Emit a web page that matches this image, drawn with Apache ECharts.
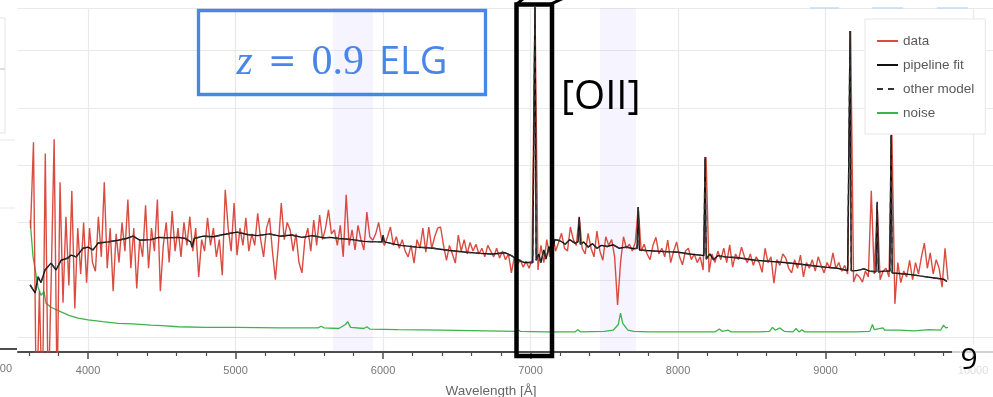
<!DOCTYPE html>
<html>
<head>
<meta charset="utf-8">
<script src="https://cdn.jsdelivr.net/npm/echarts@6/dist/echarts.min.js"></script>
<style>
  html, body { margin: 0; padding: 0; background: #fff; }
  #chart { width: 993px; height: 397px; }
</style>
</head>
<body>
<div id="chart"></div>
<script>
// spectrum sampled on a regular 20 A grid starting at 3610 A
const WAVE_START = 3610
const WAVE_STEP = 20
const dataFlux = [
  1.9, 3.4, -1.5, 0.8, -1.3, 3.2, -1.2, 1.0, 3.45, -1.0,
  2.7, 0.6, 2.1, 0.9, 2.55, 0.5, 1.9, 1.1, 2.0, 0.95,
  1.9, 1.3, 1.15, 2.1, 1.4, 2.7, 1.2, 1.9, 0.8, 1.8,
  1.3, 2.0, 1.5, 2.4, 1.2, 1.9, 0.85, 1.7, 1.4, 2.3,
  1.2, 1.9, 1.5, 2.4, 0.8, 1.6, 2.0, 1.3, 2.2, 1.5,
  1.9, 1.4, 2.0, 1.6, 2.1, 1.5, 1.9, 1.05, 1.7, 1.5,
  2.08, 1.6, 1.9, 1.4, 1.7, 1.08, 2.57, 1.9, 1.5, 2.34,
  1.43, 1.9, 1.6, 2.08, 1.5, 1.8, 1.6, 2.16, 1.7, 1.4,
  1.9, 2.08, 1.5, 1.0, 1.6, 2.34, 1.7, 2.0, 1.87, 1.5,
  1.8, 1.3, 1.12, 1.7, 1.9, 1.5, 2.04, 1.6, 2.13, 1.7,
  1.9, 2.22, 1.8, 1.87, 1.6, 1.95, 1.4, 2.48, 1.6, 1.87,
  1.52, 1.95, 1.7, 1.52, 2.18, 1.75, 1.69, 1.8, 2.0, 1.7,
  1.6, 1.75, 1.92, 1.6, 1.75, 1.55, 1.7, 1.5, 1.4, 1.6,
  1.29, 1.7, 1.55, 1.9, 1.48, 1.92, 1.55, 1.75, 1.9, 1.92,
  1.6, 1.34, 1.6, 1.45, 1.29, 1.78, 1.5, 1.7, 1.45, 1.65,
  1.5, 1.62, 1.45, 1.55, 1.4, 1.6, 1.5, 1.4, 1.55, 1.38,
  1.5, 1.35, 1.45, 1.12, 1.4, 1.25, 1.35, 1.22, 1.32, 1.2,
  1.35, 5.8, 1.17, 1.6, 1.3, 1.7, 1.4, 1.81, 1.5, 1.65,
  1.81, 1.55, 1.5, 1.92, 1.7, 1.6, 2.1, 1.55, 1.45, 1.81,
  1.55, 1.4, 1.85, 1.5, 1.34, 1.75, 1.6, 1.7, 1.4, 0.56,
  1.3, 1.75, 1.55, 1.62, 1.5, 1.65, 2.27, 1.5, 1.62, 1.45,
  1.35, 1.6, 1.74, 1.45, 1.55, 1.4, 1.69, 1.3, 1.5, 1.66,
  1.4, 1.26, 1.5, 1.55, 1.35, 1.45, 1.3, 1.4, 1.17, 3.14,
  1.13, 1.45, 1.3, 1.5, 1.35, 1.55, 1.3, 1.61, 1.22, 1.45,
  1.35, 1.57, 1.4, 1.3, 1.45, 1.25, 1.4, 1.3, 1.13, 1.55,
  1.3, 1.4, 0.94, 1.35, 1.25, 1.45, 1.38, 1.2, 1.12, 1.35,
  1.2, 1.43, 1.05, 1.3, 1.2, 1.35, 1.15, 1.4, 1.25, 1.12,
  1.3, 1.2, 1.47, 1.2, 1.3, 1.15, 1.25, 1.1, 5.34, 0.96,
  1.1, 1.05, 0.96, 1.15, 1.05, 2.55, 1.1, 2.3, 1.0, 1.15,
  1.2, 1.05, 3.53, 0.58, 1.3, 0.95, 1.15, 1.05, 1.34, 1.0,
  1.3, 1.1, 1.4, 1.64, 1.2, 1.47, 1.1, 1.35, 1.2, 0.87,
  1.55, 1.0
]

// pipeline fit (also used for the dashed other model)
const fitWave = [
  3607, 3641, 3661, 3681, 3708, 3749, 3783, 3817, 3864, 3885, 3919, 3966, 4000, 4034, 4068, 4136,
  4203, 4260, 4305, 4350, 4427, 4480, 4542, 4610, 4660, 4695, 4705, 4720, 4780, 4850, 4920, 5010,
  5080, 5150, 5230, 5300, 5380, 5450, 5520, 5600, 5640, 5700, 5790, 5870, 5960, 5992, 6000, 6008,
  6060, 6120, 6230, 6340, 6450, 6565, 6660, 6745, 6830, 6870, 6895, 6930, 6960, 7015, 7022, 7030,
  7038, 7055, 7070, 7090, 7105, 7125, 7140, 7165, 7200, 7235, 7265, 7300, 7322, 7330, 7338, 7360,
  7390, 7420, 7450, 7480, 7520, 7560, 7600, 7650, 7700, 7722, 7730, 7738, 7780, 7850, 7920, 8000,
  8080, 8150, 8175, 8183, 8191, 8215, 8240, 8270, 8320, 8420, 8520, 8620, 8720, 8830, 8930, 9000,
  9080, 9150, 9158, 9166, 9174, 9210, 9260, 9300, 9342, 9350, 9358, 9400, 9436, 9444, 9452, 9500,
  9580, 9660, 9740, 9800, 9823
]
const fitFlux = [
  0.91, 0.77, 1.05, 0.95, 1.17, 1.29, 1.17, 1.34, 1.38, 1.43, 1.40, 1.55, 1.57, 1.52, 1.64, 1.66,
  1.69, 1.72, 1.76, 1.69, 1.70, 1.74, 1.73, 1.74, 1.72, 1.66, 1.57, 1.72, 1.76, 1.75, 1.79, 1.83,
  1.79, 1.77, 1.80, 1.76, 1.78, 1.74, 1.77, 1.73, 1.74, 1.72, 1.70, 1.67, 1.66, 1.66, 1.78, 1.66,
  1.63, 1.60, 1.57, 1.55, 1.51, 1.48, 1.46, 1.45, 1.47, 1.42, 1.38, 1.33, 1.30, 1.30, 1.32, 5.8,
  1.34, 1.45, 1.30, 1.52, 1.36, 1.58, 1.42, 1.70, 1.68, 1.62, 1.70, 1.64, 1.66, 2.09, 1.62, 1.66,
  1.57, 1.63, 1.55, 1.60, 1.58, 1.61, 1.55, 1.57, 1.54, 1.55, 2.27, 1.52, 1.51, 1.50, 1.49, 1.48,
  1.45, 1.43, 1.42, 3.14, 1.36, 1.45, 1.35, 1.42, 1.40, 1.38, 1.34, 1.32, 1.30, 1.27, 1.24, 1.22,
  1.20, 1.16, 1.17, 5.34, 1.16, 1.16, 1.19, 1.15, 1.14, 2.36, 1.14, 1.15, 1.15, 3.53, 1.12, 1.11,
  1.09, 1.06, 1.03, 1.01, 0.97
]

const noiseWave = [
  3607, 3627, 3661, 3681, 3702, 3715, 3749, 3817, 3870, 3932, 4000, 4100, 4203, 4300, 4427, 4500,
  4610, 4800, 5000, 5300, 5560, 5580, 5600, 5700, 5745, 5760, 5780, 5870, 5890, 5910, 6100, 6400,
  6700, 6900, 6915, 6930, 7100, 7300, 7320, 7340, 7500, 7560, 7595, 7610, 7625, 7660, 7700, 7800,
  8000, 8250, 8280, 8300, 8340, 8360, 8550, 8620, 8640, 8660, 8690, 8720, 8780, 8800, 8820, 8840,
  8860, 9050, 9200, 9300, 9318, 9330, 9390, 9400, 9500, 9600, 9700, 9780, 9800, 9815, 9830
]
const noiseFlux = [
  2.04, 1.40, 0.87, 0.73, 0.79, 0.59, 0.52, 0.44, 0.38, 0.33, 0.30, 0.27, 0.24, 0.23, 0.21, 0.20,
  0.18, 0.17, 0.17, 0.16, 0.16, 0.19, 0.16, 0.15, 0.22, 0.27, 0.17, 0.15, 0.18, 0.14, 0.13, 0.12,
  0.11, 0.10, 0.13, 0.10, 0.09, 0.09, 0.13, 0.09, 0.10, 0.12, 0.22, 0.42, 0.24, 0.12, 0.10, 0.09,
  0.09, 0.09, 0.14, 0.10, 0.12, 0.09, 0.09, 0.10, 0.17, 0.12, 0.16, 0.10, 0.09, 0.15, 0.09, 0.13,
  0.09, 0.09, 0.09, 0.10, 0.22, 0.13, 0.16, 0.12, 0.12, 0.11, 0.13, 0.12, 0.21, 0.16, 0.17
]

const xTickLabels = [4000, 5000, 6000, 7000, 8000, 9000, 10000]
const xMinorTicks = [3600, 3800, 4200, 4400, 4600, 4800, 5200, 5400, 5600, 5800, 6200, 6400, 6600,
  6800, 7200, 7400, 7600, 7800, 8200, 8400, 8600, 8800, 9200, 9400, 9600, 9800]
const yGridValues = [0, 1, 2, 3, 4, 5, 5.74]
const maskBands = [[5661, 5932], [7471, 7715]]

const X_MIN = 3525
const X_MAX = 10142
const Y_MIN = -0.26
const Y_MAX = 5.74

const toPairs = (xs, ys) => xs.map((x, i) => [x, ys[i]])
const dataPoints = dataFlux.map((v, i) => [WAVE_START + i * WAVE_STEP, v])
const fitPoints = toPairs(fitWave, fitFlux)
const noisePoints = toPairs(noiseWave, noiseFlux)

const chart = echarts.init(document.getElementById('chart'))

const axisColor = '#4d4d4d'
const gridColor = '#e9e9e9'
const blue = '#4a86e8'

const line = (x1, y1, x2, y2, stroke, lineWidth) => ({
  type: 'line', silent: true, z: 100,
  shape: { x1, y1, x2, y2 },
  style: { stroke, lineWidth },
})

chart.setOption({
  animation: false,
  backgroundColor: '#fff',
  textStyle: { fontFamily: 'Liberation Sans' },
  grid: { left: 18, top: 8, width: 976, height: 344, containLabel: false, outerBoundsMode: 'none' },
  legend: {
    data: ['data', 'pipeline fit', 'other model', 'noise'],
    orient: 'vertical',
    left: 865,
    top: 19,
    padding: [15, 11, 14, 11],
    itemGap: 10,
    itemWidth: 21,
    itemHeight: 14,
    itemStyle: { opacity: 0 },
    backgroundColor: '#fff',
    borderColor: '#e6e6e6',
    borderWidth: 1,
    borderRadius: 0,
    textStyle: { color: '#595959', fontSize: 13.5, fontFamily: 'Liberation Sans', lineHeight: 14 },
  },
  xAxis: [
    {
      type: 'value',
      min: X_MIN,
      max: X_MAX,
      name: 'Wavelength [Å]',
      nameLocation: 'middle',
      nameGap: 32,
      nameTextStyle: { color: '#666', fontSize: 13.5, padding: [0, 30, 0, 0] },
      axisLine: { onZero: false, lineStyle: { color: axisColor, width: 2 } },
      axisTick: { customValues: xTickLabels, length: 7, lineStyle: { color: axisColor, width: 1.5 } },
      axisLabel: { customValues: xTickLabels, margin: 13, color: '#777', fontSize: 11, formatter: v => String(v) },
      splitLine: { show: true, lineStyle: { color: gridColor, width: 1.2 } },
    },
    {
      type: 'value',
      min: X_MIN,
      max: X_MAX,
      position: 'bottom',
      axisLine: { show: false, onZero: false },
      axisTick: { customValues: xMinorTicks, length: 4, lineStyle: { color: axisColor, width: 1.2 } },
      axisLabel: { show: false },
      splitLine: { show: false },
    },
  ],
  yAxis: {
    type: 'value',
    min: Y_MIN,
    max: Y_MAX,
    axisLine: { show: false },
    axisTick: { show: false, customValues: yGridValues },
    axisLabel: { show: false },
    splitLine: { show: true, lineStyle: { color: gridColor, width: 1.2 } },
  },
  series: [
    {
      name: 'noise',
      type: 'line',
      data: noisePoints,
      symbol: 'none',
      color: '#3cb44b',
      lineStyle: { color: '#3cb44b', width: 1.3 },
    },
    {
      name: 'data',
      type: 'line',
      data: dataPoints,
      symbol: 'none',
      color: '#d6392c',
      lineStyle: { color: '#d6392c', width: 1.4, opacity: 0.9 },
      markArea: {
        silent: true,
        itemStyle: { color: 'rgba(140,120,255,0.08)' },
        data: maskBands.map(([a, b]) => [{ xAxis: a }, { xAxis: b }]),
      },
    },
    {
      name: 'pipeline fit',
      type: 'line',
      data: fitPoints,
      symbol: 'none',
      color: '#111',
      lineStyle: { color: '#111', width: 1.4 },
    },
    {
      name: 'other model',
      type: 'line',
      data: fitPoints,
      symbol: 'none',
      color: '#333',
      lineStyle: { color: '#333', width: 1.4, type: [6, 5] },
    },
  ],
  graphic: [
    // remnants of the neighbouring panel on the left
    { type: 'rect', silent: true, z: 100, shape: { x: -10, y: 18, width: 15, height: 115 },
      style: { fill: 'none', stroke: '#e3e3e3', lineWidth: 1 } },
    line(0, 69, 5, 69, '#d5d5d5', 1.5),
    line(0, 140, 15, 140, '#ececec', 1.2),
    line(0, 208, 15, 208, '#ececec', 1.2),
    line(0, 349, 17, 349, axisColor, 2),
    { type: 'text', silent: true, z: 100, x: 12, y: 369,
      style: { text: '00', fill: '#777', fontSize: 11, fontFamily: 'Liberation Sans', align: 'right', verticalAlign: 'middle' } },
    // toolbar strokes at the top
    line(810, 8, 839, 8, '#c3daf2', 1.5),
    line(872, 8, 903, 8, '#c3daf2', 1.5),
    line(937, 8, 968, 8, '#c3daf2', 1.5),
    // redshift box
    { type: 'rect', silent: true, z: 100, shape: { x: 198.5, y: 10.5, width: 287, height: 84 },
      style: { fill: 'none', stroke: blue, lineWidth: 3.3 } },
    { type: 'text', silent: true, z: 100, x: 342, y: 63,
      style: {
        text: '{i|z} {e|=} {m|0.9} {s|ELG}',
        align: 'center',
        verticalAlign: 'middle',
        rich: {
          i: { fontFamily: 'Liberation Serif', fontStyle: 'italic', fontSize: 42, fill: blue, padding: [0, 5, 0, 0] },
          e: { fontFamily: 'DejaVu Sans', fontSize: 34, fill: blue, padding: [0, 5, 0, 0] },
          m: { fontFamily: 'Liberation Serif', fontSize: 42, fill: blue, padding: [0, 5, 0, 0] },
          s: { fontFamily: 'Open Sans', fontSize: 38, fill: blue },
        },
        fontFamily: 'Liberation Serif',
        fontSize: 40,
        fill: blue,
      } },
    // [OII] box
    { type: 'rect', silent: true, z: 100, shape: { x: 516.5, y: 4.5, width: 35.5, height: 351.5 },
      style: { fill: 'none', stroke: '#000', lineWidth: 4.5 } },
    { type: 'polyline', silent: true, z: 100, shape: { points: [[517, 4], [524, -2]] },
      style: { stroke: '#000', lineWidth: 3 } },
    { type: 'polyline', silent: true, z: 100, shape: { points: [[551, 4], [566, -3]] },
      style: { stroke: '#000', lineWidth: 3 } },
    { type: 'text', silent: true, z: 100, x: 561, y: 98,
      style: { text: '[OII]', fill: '#000', fontSize: 40, fontFamily: 'Open Sans', align: 'left', verticalAlign: 'middle' } },
    // slide page number
    { type: 'rect', silent: true, z: 100, shape: { x: 952, y: 345, width: 45, height: 34 },
      style: { fill: 'rgba(255,255,255,0.75)' } },
    { type: 'text', silent: true, z: 100, x: 969, y: 360,
      style: { text: '9', fill: '#000', fontSize: 30, fontFamily: 'Open Sans', align: 'center', verticalAlign: 'middle' } },
  ],
})
</script>
</body>
</html>
